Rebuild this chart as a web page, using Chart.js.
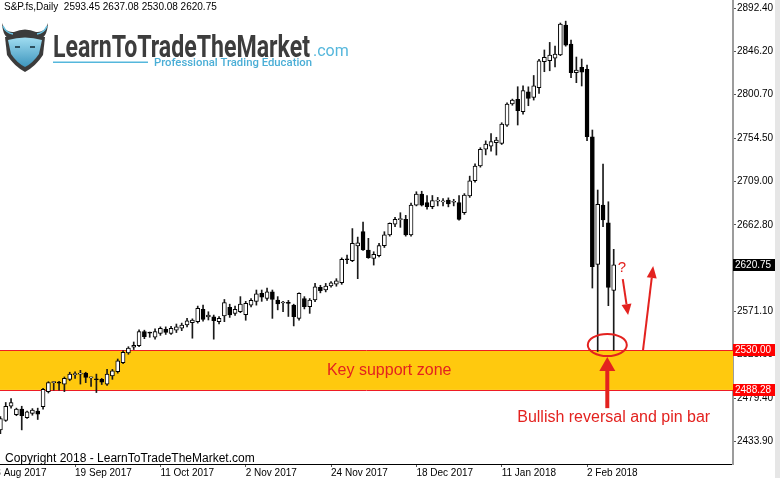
<!DOCTYPE html>
<html lang="en">
<head>
<meta charset="UTF-8">
<title>S&amp;P.fs Daily</title>
<script src="https://cdn.jsdelivr.net/npm/chart.js@4"></script>
<style>
  html, body { margin: 0; padding: 0; background: #fff; }
  #wrap { width: 780px; height: 478px; }
</style>
</head>
<body>
<div id="wrap"><canvas id="priceChart" width="780" height="478"></canvas></div>
<script>
// daily bars, 30 Aug 2017 .. 9 Feb 2018
const dates = [
  '2017-08-30','2017-08-31','2017-09-01','2017-09-04','2017-09-05','2017-09-06','2017-09-07','2017-09-08',
  '2017-09-11','2017-09-12','2017-09-13','2017-09-14','2017-09-15','2017-09-18','2017-09-19','2017-09-20',
  '2017-09-21','2017-09-22','2017-09-25','2017-09-26','2017-09-27','2017-09-28','2017-09-29','2017-10-02',
  '2017-10-03','2017-10-04','2017-10-05','2017-10-06','2017-10-09','2017-10-10','2017-10-11','2017-10-12',
  '2017-10-13','2017-10-16','2017-10-17','2017-10-18','2017-10-19','2017-10-20','2017-10-23','2017-10-24',
  '2017-10-25','2017-10-26','2017-10-27','2017-10-30','2017-10-31','2017-11-01','2017-11-02','2017-11-03',
  '2017-11-06','2017-11-07','2017-11-08','2017-11-09','2017-11-10','2017-11-13','2017-11-14','2017-11-15',
  '2017-11-16','2017-11-17','2017-11-20','2017-11-21','2017-11-22','2017-11-23','2017-11-24','2017-11-27',
  '2017-11-28','2017-11-29','2017-11-30','2017-12-01','2017-12-04','2017-12-05','2017-12-06','2017-12-07',
  '2017-12-08','2017-12-11','2017-12-12','2017-12-13','2017-12-14','2017-12-15','2017-12-18','2017-12-19',
  '2017-12-20','2017-12-21','2017-12-22','2017-12-26','2017-12-27','2017-12-28','2017-12-29','2018-01-02',
  '2018-01-03','2018-01-04','2018-01-05','2018-01-08','2018-01-09','2018-01-10','2018-01-11','2018-01-12',
  '2018-01-15','2018-01-16','2018-01-17','2018-01-18','2018-01-19','2018-01-22','2018-01-23','2018-01-24',
  '2018-01-25','2018-01-26','2018-01-29','2018-01-30','2018-01-31','2018-02-01','2018-02-02','2018-02-05',
  '2018-02-06','2018-02-07','2018-02-08','2018-02-09'
];
const openPrices = [
  2446, 2456, 2471, 2462, 2468, 2459, 2463.5, 2466, 2470.5, 2486.5,
  2496, 2496.5, 2494.5, 2499.5, 2504.5, 2505, 2506, 2501, 2499.5, 2499.5,
  2494.5, 2503, 2507.5, 2517, 2527.5, 2533.5, 2535, 2550, 2548.8, 2544,
  2548, 2552.5, 2548, 2551.5, 2553.5, 2557, 2559.5, 2560.5, 2573.6, 2565.5,
  2565.7, 2560.5, 2566.5, 2575.6, 2569.3, 2571, 2568, 2578, 2582, 2590.5,
  2585, 2592, 2583.4, 2580.3, 2580.5, 2578, 2564, 2585, 2576.3, 2583.4,
  2596.8, 2594, 2598.2, 2600.3, 2601.7, 2627, 2625, 2640.6, 2655.7, 2636.3,
  2627.5, 2630.3, 2640.9, 2652.2, 2663.8, 2668.5, 2668.8, 2652.2, 2683.9, 2695.6,
  2686.4, 2682.1, 2688, 2687.3, 2689.2, 2686.9, 2686.4, 2675.8, 2693.5, 2709.6,
  2725.2, 2742.9, 2746.3, 2749.9, 2749.2, 2768.5, 2790.8, 2795.8, 2782.7, 2803.8,
  2797.9, 2808, 2835.6, 2836.6, 2839.2, 2842.7, 2874.4, 2854.3, 2824, 2829.6,
  2827.5, 2756.2, 2621.2, 2684, 2665.2, 2593.45
];
const highPrices = [
  2460, 2475, 2479, 2469, 2471, 2466, 2468.5, 2469, 2490, 2497,
  2497, 2497.5, 2502, 2507, 2507.5, 2509, 2507, 2502, 2505, 2500.5,
  2510, 2510, 2521, 2530, 2534, 2539, 2552, 2551.5, 2549.5, 2553,
  2555, 2555, 2555.5, 2558, 2559, 2564, 2563.5, 2577, 2578, 2571,
  2567.5, 2566, 2584, 2579, 2577, 2587, 2582, 2585, 2594, 2594,
  2596, 2594, 2587, 2582, 2583, 2579, 2591, 2587, 2585, 2601,
  2599, 2601, 2603, 2606, 2628, 2631, 2659, 2650, 2666, 2648.7,
  2634.5, 2643.4, 2655.7, 2665, 2671, 2675.8, 2673, 2686, 2698, 2698.5,
  2694, 2694, 2692, 2690.8, 2691.5, 2690, 2694, 2696, 2714.5, 2727.5,
  2744.6, 2751.8, 2759.6, 2755.6, 2771, 2792, 2796, 2809.1, 2810, 2809,
  2821, 2838, 2848, 2856, 2852, 2876.5, 2878.5, 2858.5, 2840.5, 2838.4,
  2832.1, 2763.3, 2699.8, 2727.3, 2687.4, 2637.08
];
const lowPrices = [
  2442, 2455, 2469, 2461, 2446, 2458, 2461.5, 2457, 2468, 2485,
  2488, 2488, 2486.5, 2498, 2500.5, 2494.5, 2496, 2492, 2485.5, 2494,
  2493, 2499.5, 2506, 2516, 2526, 2531, 2534, 2542.5, 2544, 2542,
  2546, 2547, 2547, 2549, 2551, 2555, 2543, 2559, 2561, 2562.3,
  2542, 2558, 2560.5, 2565, 2567, 2570, 2562, 2576, 2578, 2582,
  2583, 2564, 2573, 2571, 2566, 2556, 2562, 2574, 2569.3, 2581.6,
  2591, 2592, 2597, 2598, 2600, 2622, 2624, 2606, 2636, 2627.5,
  2620.4, 2629, 2639, 2651, 2661, 2660.3, 2651, 2651, 2683, 2682.9,
  2679.5, 2680, 2683, 2683, 2682, 2683, 2668, 2674, 2692, 2708,
  2724, 2737, 2741, 2736.8, 2748, 2767, 2789.5, 2768.6, 2780, 2789,
  2795, 2802, 2825, 2826, 2830, 2842, 2852, 2818.7, 2813.4, 2809.9,
  2752, 2596.1, 2529, 2661, 2577.4, 2530.08
];
const closePrices = [
  2458, 2471, 2475, 2468, 2461, 2465, 2467, 2462.5, 2489, 2496,
  2496.5, 2495.5, 2500.5, 2505, 2505.2, 2506, 2501.5, 2501.6, 2499, 2496.5,
  2505, 2508.5, 2519, 2528, 2532.5, 2535.5, 2550, 2544.5, 2548.4, 2550,
  2553.5, 2549, 2553.5, 2555, 2557, 2561.5, 2562.3, 2574.6, 2563, 2567.5,
  2561.5, 2564, 2580.6, 2567.6, 2573.6, 2579, 2580, 2583, 2590, 2586.3,
  2592, 2584, 2579.2, 2581, 2579.8, 2565.7, 2590.5, 2576.3, 2583.4, 2597.5,
  2593.2, 2598.2, 2601.7, 2603.8, 2626.5, 2626, 2643.4, 2644, 2636.3, 2628.2,
  2631.8, 2640.9, 2652.5, 2664.6, 2668.8, 2669, 2652.2, 2683.9, 2695.6, 2683.9,
  2682.1, 2688.5, 2688.3, 2687.5, 2685, 2687.1, 2668.8, 2694.5, 2709.6, 2725.2,
  2742.9, 2748.5, 2751, 2752.7, 2769.6, 2790.8, 2795, 2783.7, 2804.9, 2796.8,
  2810, 2836.6, 2840.2, 2842.7, 2843.7, 2875.5, 2853.2, 2824, 2826.8, 2824.4,
  2756.2, 2618.6, 2684.7, 2668.1, 2596.8, 2620.75
];

// axis labels
const priceTicks = [2892.40, 2846.20, 2800.70, 2754.50, 2709.00, 2662.80, 2617.30, 2571.10, 2525.60, 2479.40, 2433.90];
const dateTickIndex = [-2, 14, 30, 46, 62, 78, 94, 110];
const dateTickText = ['28 Aug 2017', '19 Sep 2017', '11 Oct 2017', '2 Nov 2017', '24 Nov 2017', '18 Dec 2017', '11 Jan 2018', '2 Feb 2018'];

// support zone + last bar quote
const supportLow = 2488.28;
const supportHigh = 2530.00;
const lastQuote = [2593.45, 2637.08, 2530.08, 2620.75];

const yMin = 2409.9, yMax = 2900.87;
const xMin = -0.075, xMax = 137.37;

const noteRed = '#e3221f';
const FONT = "'Liberation Sans', Arial, sans-serif";

function drawArrow(ctx, x1, y1, x2, y2, w, headLen, headW) {
    const ang = Math.atan2(y2 - y1, x2 - x1);
    const bx = x2 - headLen * Math.cos(ang), by = y2 - headLen * Math.sin(ang);
    ctx.lineWidth = w;
    ctx.beginPath(); ctx.moveTo(x1, y1); ctx.lineTo(bx, by); ctx.stroke();
    const nx = -Math.sin(ang) * headW / 2, ny = Math.cos(ang) * headW / 2;
    ctx.beginPath();
    ctx.moveTo(x2, y2); ctx.lineTo(bx + nx, by + ny); ctx.lineTo(bx - nx, by - ny);
    ctx.closePath(); ctx.fill();
}

function fitText(ctx, text, x, y, width) {
    const w = ctx.measureText(text).width;
    ctx.save();
    ctx.translate(x, y);
    ctx.scale(width / w, 1);
    ctx.fillText(text, 0, 0);
    ctx.restore();
}

function drawLogo(ctx) {
    ctx.save();
    // horns band
    ctx.fillStyle = '#3b3b3b';
    ctx.beginPath();
    ctx.moveTo(2, 23);
    ctx.quadraticCurveTo(5, 33, 14, 32);
    ctx.quadraticCurveTo(25, 27, 36, 32);
    ctx.quadraticCurveTo(45, 33, 48, 23);
    ctx.quadraticCurveTo(47, 40, 37, 39);
    ctx.lineTo(13, 39);
    ctx.quadraticCurveTo(3, 40, 2, 23);
    ctx.fill();
    // horn tips
    ctx.strokeStyle = '#6cc6e6';
    ctx.lineWidth = 1.5;
    ctx.beginPath(); ctx.moveTo(3, 26); ctx.quadraticCurveTo(6, 33, 13, 34); ctx.stroke();
    ctx.beginPath(); ctx.moveTo(47, 26); ctx.quadraticCurveTo(44, 33, 37, 34); ctx.stroke();
    // shield
    ctx.fillStyle = '#3b3b3b';
    ctx.beginPath();
    ctx.moveTo(5, 37); ctx.lineTo(45, 37); ctx.lineTo(43, 55);
    ctx.quadraticCurveTo(36, 66, 25, 72);
    ctx.quadraticCurveTo(14, 66, 7, 55);
    ctx.closePath(); ctx.fill();
    // face
    const g = ctx.createLinearGradient(0, 38, 0, 68);
    g.addColorStop(0, '#9edbf0');
    g.addColorStop(1, '#3a93bb');
    ctx.fillStyle = g;
    ctx.beginPath();
    ctx.moveTo(8, 40); ctx.quadraticCurveTo(25, 35, 42, 40);
    ctx.lineTo(39, 54);
    ctx.quadraticCurveTo(33, 63, 25, 67);
    ctx.quadraticCurveTo(17, 63, 11, 54);
    ctx.closePath(); ctx.fill();
    // eyes
    ctx.fillStyle = '#2c4f5e';
    ctx.fillRect(15, 46, 5, 2);
    ctx.fillRect(30, 46, 5, 2);
    ctx.restore();

    ctx.save();
    ctx.textBaseline = 'alphabetic';
    ctx.textAlign = 'left';
    ctx.fillStyle = '#3d3d3d';
    ctx.font = "bold 31px Roboto, " + FONT;
    fitText(ctx, 'LearnToTradeTheMarket', 53, 56.5, 257);
    ctx.fillStyle = '#55b7dc';
    ctx.font = "16px Roboto, " + FONT;
    ctx.fillText('.com', 313, 55.5);
    ctx.fillRect(53, 61.5, 95, 1.5);
    ctx.fillStyle = '#4aaed6';
    ctx.font = "500 10.5px Roboto, " + FONT;
    fitText(ctx, 'Professional Trading Education', 154, 66, 158);
    ctx.restore();
}

const marketNotes = {
    id: 'marketNotes',
    beforeDatasetsDraw(chart) {
        const {ctx, chartArea: area, scales: {y}} = chart;
        const top = y.getPixelForValue(supportHigh);
        const bottom = y.getPixelForValue(supportLow);
        ctx.save();
        ctx.fillStyle = '#ffc90e';
        ctx.fillRect(area.left, top, area.right - area.left, bottom - top);
        ctx.strokeStyle = '#ee1c24';
        ctx.lineWidth = 1;
        [top, bottom].forEach(py => {
            const yy = Math.round(py) + 0.5;
            ctx.beginPath(); ctx.moveTo(area.left, yy); ctx.lineTo(area.right, yy); ctx.stroke();
        });
        ctx.restore();
    },
    afterDraw(chart) {
        const {ctx, scales: {x, y}} = chart;
        ctx.save();

        // notes on the chart
        ctx.fillStyle = noteRed;
        ctx.strokeStyle = noteRed;
        ctx.font = '16px ' + FONT;
        ctx.textAlign = 'center';
        ctx.textBaseline = 'middle';
        ctx.fillText('Key support zone', x.getPixelForValue(72.9), y.getPixelForValue((supportLow + supportHigh) / 2));
        ctx.fillText('Bullish reversal and pin bar', x.getPixelForValue(115), y.getPixelForValue(2459));
        ctx.font = '15px ' + FONT;
        ctx.fillText('?', x.getPixelForValue(116.55), y.getPixelForValue(2617.3));

        // circle round the two lows
        ctx.lineWidth = 2;
        ctx.beginPath();
        ctx.ellipse(x.getPixelForValue(113.8), y.getPixelForValue(2535.8), 19.5, 11, 0, 0, Math.PI * 2);
        ctx.stroke();

        drawArrow(ctx, x.getPixelForValue(113.8), y.getPixelForValue(2469), x.getPixelForValue(113.8), y.getPixelForValue(2523.1), 4, 14, 16);
        drawArrow(ctx, x.getPixelForValue(116.7), y.getPixelForValue(2605.6), x.getPixelForValue(117.7), y.getPixelForValue(2567.5), 2, 11, 10);
        drawArrow(ctx, x.getPixelForValue(120.5), y.getPixelForValue(2530.5), x.getPixelForValue(122.4), y.getPixelForValue(2619.4), 2, 12, 10);

        // price tags on the axis
        const tag = (value, text, bg) => {
            const py = Math.round(y.getPixelForValue(value));
            ctx.fillStyle = bg;
            ctx.fillRect(y.left, py - 6, 43, 12);
            ctx.fillStyle = '#fff';
            ctx.font = '10px ' + FONT;
            ctx.textAlign = 'left';
            ctx.textBaseline = 'middle';
            ctx.fillText(text, y.left + 2, py + 0.5);
        };
        tag(lastQuote[3], lastQuote[3].toFixed(2), '#000');
        tag(supportHigh, supportHigh.toFixed(2), '#ff0000');
        tag(supportLow, supportLow.toFixed(2), '#ff0000');

        // frame strip on the right
        ctx.fillStyle = '#e6e6e6';
        ctx.fillRect(775, 0, 5, chart.height);

        // header and copyright
        ctx.fillStyle = '#000';
        ctx.font = '10px ' + FONT;
        ctx.textAlign = 'left';
        ctx.textBaseline = 'middle';
        ctx.fillText('S&P.fs,Daily  ' + lastQuote.map(v => v.toFixed(2)).join(' '), 4, 7);
        ctx.font = '12px ' + FONT;
        ctx.fillText('Copyright 2018 - LearnToTradeTheMarket.com', 5, 458.5);

        drawLogo(ctx);
        ctx.restore();
    }
};

const wickData = dates.map((d, i) => ({x: i, y: [lowPrices[i], highPrices[i]]}));
const bodyData = dates.map((d, i) => ({x: i, y: [openPrices[i], closePrices[i]]}));
const bodyFill = dates.map((d, i) => closePrices[i] >= openPrices[i] ? '#ffffff' : '#000000');

Chart.defaults.font.family = FONT;
Chart.defaults.font.size = 10;
Chart.defaults.color = '#000';

const ctx = document.getElementById('priceChart').getContext('2d');
new Chart(ctx, {
    type: 'bar',
    data: {
        datasets: [
            {
                label: 'High-Low',
                data: wickData,
                backgroundColor: '#1a1a1a',
                borderWidth: 0,
                barThickness: 1,
                grouped: false,
                order: 2
            },
            {
                label: 'S&P.fs',
                data: bodyData,
                backgroundColor: bodyFill,
                borderColor: '#000',
                borderWidth: 1,
                borderSkipped: false,
                barThickness: 4,
                minBarLength: 1,
                grouped: false,
                order: 1
            }
        ]
    },
    options: {
        responsive: false,
        animation: false,
        devicePixelRatio: 1,
        layout: { padding: 0 },
        plugins: {
            legend: { display: false },
            tooltip: { enabled: false }
        },
        scales: {
            x: {
                type: 'linear',
                min: xMin,
                max: xMax,
                offset: false,
                grid: { offset: false, drawOnChartArea: false, drawTicks: true, tickLength: 3, color: '#555' },
                border: { display: true, color: '#000', width: 1 },
                ticks: {
                    autoSkip: false,
                    maxRotation: 0,
                    align: 'start',
                    padding: 0,
                    callback: (value) => {
                        const k = dateTickIndex.indexOf(value);
                        return k >= 0 ? dateTickText[k] : '';
                    }
                },
                afterBuildTicks: (axis) => { axis.ticks = dateTickIndex.map(v => ({value: v})); },
                afterFit: (axis) => { axis.height = 14; axis.paddingLeft = 0; axis.paddingRight = 0; }
            },
            y: {
                type: 'linear',
                position: 'right',
                min: yMin,
                max: yMax,
                beginAtZero: false,
                grid: { drawOnChartArea: false, drawTicks: true, tickLength: 3, color: '#555' },
                border: { display: true, color: '#9c9c9c', width: 2 },
                ticks: { padding: 1, callback: (value) => Number(value).toFixed(2) },
                afterBuildTicks: (axis) => { axis.ticks = priceTicks.map(v => ({value: v})); },
                afterFit: (axis) => { axis.width = 47; axis.paddingTop = 0; axis.paddingBottom = 0; }
            }
        }
    },
    plugins: [marketNotes]
});
</script>
</body>
</html>
